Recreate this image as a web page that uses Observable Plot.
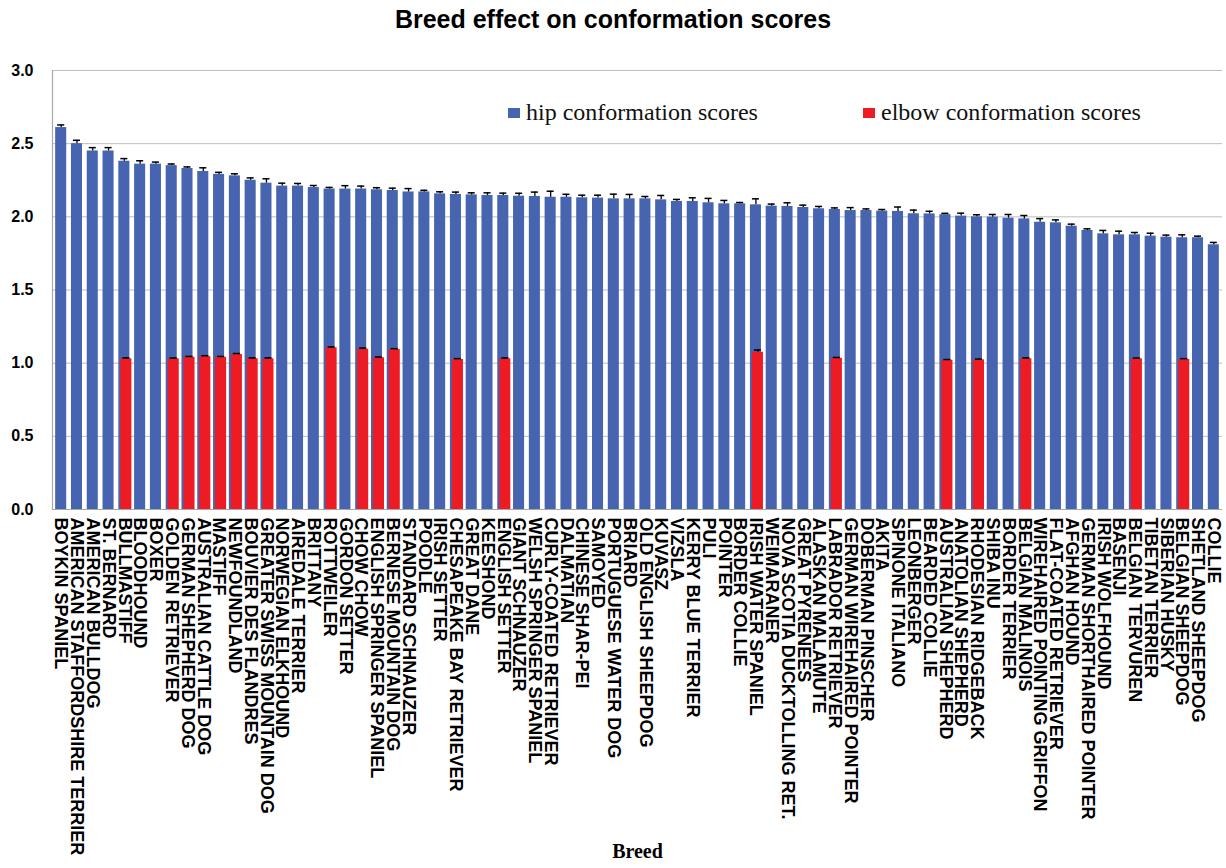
<!DOCTYPE html>
<html>
<head>
<meta charset="utf-8">
<script src="https://cdn.jsdelivr.net/npm/d3@7"></script>
<script src="https://cdn.jsdelivr.net/npm/@observablehq/plot@0.6"></script>
<style>
  html, body { margin: 0; padding: 0; background: #fff; }
  #wrap { position: relative; width: 1226px; height: 868px; }
  #title { box-sizing: border-box; height: 40px; padding-top: 5px; line-height: 35px; text-align: center; font: bold 25px "Liberation Sans", Arial, sans-serif; color: #000; }
  .leg { position: absolute; font-family: "Liberation Serif", "Times New Roman", serif; font-size: 24px; line-height: 28px; color: #111; white-space: nowrap; }
  .sw { display: inline-block; width: 12px; height: 10px; margin-right: 6px; vertical-align: 2px; }
</style>
</head>
<body>
<div id="wrap">
  <div id="title">Breed effect on conformation scores</div>
  <div id="chart"></div>
  <div class="leg" style="left:508px; top:98px;"><span class="sw" style="background:#4664AF"></span>hip conformation scores</div>
  <div class="leg" style="left:863px; top:98px;"><span class="sw" style="background:#ED1C24"></span>elbow conformation scores</div>
</div>
<script>
const breeds = [
  "BOYKIN SPANIEL", "AMERICAN STAFFORDSHIRE TERRIER", "AMERICAN BULLDOG", "ST. BERNARD",
  "BULLMASTIFF", "BLOODHOUND", "BOXER", "GOLDEN RETRIEVER", "GERMAN SHEPHERD DOG",
  "AUSTRALIAN CATTLE DOG", "MASTIFF", "NEWFOUNDLAND", "BOUVIER DES FLANDRES",
  "GREATER SWISS MOUNTAIN DOG", "NORWEGIAN ELKHOUND", "AIREDALE TERRIER", "BRITTANY",
  "ROTTWEILER", "GORDON SETTER", "CHOW CHOW", "ENGLISH SPRINGER SPANIEL",
  "BERNESE MOUNTAIN DOG", "STANDARD SCHNAUZER", "POODLE", "IRISH SETTER",
  "CHESAPEAKE BAY RETRIEVER", "GREAT DANE", "KEESHOND", "ENGLISH SETTER",
  "GIANT SCHNAUZER", "WELSH SPRINGER SPANIEL", "CURLY-COATED RETRIEVER", "DALMATIAN",
  "CHINESE SHAR-PEI", "SAMOYED", "PORTUGUESE WATER DOG", "BRIARD", "OLD ENGLISH SHEEPDOG",
  "KUVASZ", "VIZSLA", "KERRY BLUE TERRIER", "PULI", "POINTER", "BORDER COLLIE",
  "IRISH WATER SPANIEL", "WEIMARANER", "NOVA SCOTIA DUCKTOLLING RET.", "GREAT PYRENEES",
  "ALASKAN MALAMUTE", "LABRADOR RETRIEVER", "GERMAN WIREHAIRED POINTER",
  "DOBERMAN PINSCHER", "AKITA", "SPINONE ITALIANO", "LEONBERGER", "BEARDED COLLIE",
  "AUSTRALIAN SHEPHERD", "ANATOLIAN SHEPHERD", "RHODESIAN RIDGEBACK", "SHIBA INU",
  "BORDER TERRIER", "BELGIAN MALINOIS", "WIREHAIRED POINTING GRIFFON",
  "FLAT-COATED RETRIEVER", "AFGHAN HOUND", "GERMAN SHORTHAIRED POINTER",
  "IRISH WOLFHOUND", "BASENJI", "BELGIAN TERVUREN", "TIBETAN TERRIER", "SIBERIAN HUSKY",
  "BELGIAN SHEEPDOG", "SHETLAND SHEEPDOG", "COLLIE"
];

const hipScores = [
  2.61, 2.50, 2.45, 2.45, 2.38, 2.36, 2.36, 2.35, 2.33, 2.31,
  2.29, 2.28, 2.25, 2.23, 2.21, 2.21, 2.20, 2.19, 2.19, 2.19,
  2.185, 2.18, 2.17, 2.17, 2.157, 2.153, 2.15, 2.146, 2.146, 2.141,
  2.139, 2.134, 2.134, 2.13, 2.128, 2.123, 2.123, 2.123, 2.116, 2.105,
  2.105, 2.096, 2.089, 2.089, 2.082, 2.073, 2.071, 2.064, 2.055, 2.05,
  2.043, 2.043, 2.039, 2.037, 2.021, 2.02, 2.015, 2.005, 2.0, 1.998,
  1.991, 1.986, 1.963, 1.959, 1.936, 1.907, 1.884, 1.877, 1.877, 1.868,
  1.861, 1.857, 1.857, 1.809
];

const hipErrors = [
  0.018, 0.023, 0.023, 0.023, 0.018, 0.023, 0.014, 0.011, 0.011, 0.025,
  0.014, 0.014, 0.016, 0.030, 0.020, 0.018, 0.014, 0.011, 0.023, 0.020,
  0.014, 0.016, 0.023, 0.011, 0.014, 0.016, 0.014, 0.018, 0.016, 0.020,
  0.030, 0.041, 0.020, 0.018, 0.020, 0.032, 0.030, 0.016, 0.030, 0.014,
  0.025, 0.030, 0.023, 0.009, 0.041, 0.014, 0.025, 0.016, 0.016, 0.011,
  0.020, 0.011, 0.011, 0.030, 0.025, 0.018, 0.009, 0.020, 0.014, 0.018,
  0.025, 0.023, 0.025, 0.020, 0.014, 0.011, 0.023, 0.025, 0.016, 0.020,
  0.014, 0.020, 0.011, 0.016
];

// elbow scores (null where no elbow score is shown)
const elbowScores = [
  null, null, null, null, 1.03, null, null, 1.03, 1.04, 1.045,
  1.04, 1.06, 1.03, 1.03, null, null, null, 1.105, null, 1.095,
  1.037, 1.093, null, null, null, 1.025, null, null, 1.03, null,
  null, null, null, null, null, null, null, null, null, null,
  null, null, null, null, 1.075, null, null, null, null, 1.034,
  null, null, null, null, null, null, 1.02, null, 1.023, null,
  null, 1.03, null, null, null, null, null, null, 1.03, null,
  null, 1.025, null, null
];

const elbowErrors = [
  null, null, null, null, 0.006, null, null, 0.005, 0.006, 0.006,
  0.006, 0.006, 0.006, 0.006, null, null, null, 0.006, null, 0.008,
  0.005, 0.006, null, null, null, 0.006, null, null, 0.006, null,
  null, null, null, null, null, null, null, null, null, null,
  null, null, null, null, 0.015, null, null, null, null, 0.005,
  null, null, null, null, null, null, 0.005, null, 0.005, null,
  null, 0.006, null, null, null, null, null, null, 0.005, null,
  null, 0.006, null, null
];

const yTicks = [0, 0.5, 1.0, 1.5, 2.0, 2.5, 3.0];

const hip = breeds.map((b, i) => ({breed: b, v: hipScores[i], e: hipErrors[i]}));
const elbow = breeds.map((b, i) => ({breed: b, v: elbowScores[i], e: elbowErrors[i]})).filter(d => d.v != null);

const sans = "'Liberation Sans', Arial, sans-serif";

const chart = Plot.plot({
  width: 1226,
  height: 828,
  marginTop: 30,
  marginBottom: 359,
  marginLeft: 52,
  marginRight: 4,
  style: {fontFamily: sans, background: "white", color: "#000"},
  x: {domain: breeds, paddingInner: 0.3, paddingOuter: 0.2, label: null},
  y: {domain: [0, 3], label: null},
  marks: [
    Plot.gridY(yTicks, {stroke: "#bdbdbd", strokeOpacity: 1, strokeWidth: 1}),
    Plot.barY(hip, {x: "breed", y: "v", fill: "#4664AF"}),
    Plot.ruleX(hip, {x: "breed", y1: "v", y2: d => d.v + d.e, stroke: "#000", strokeWidth: 1.3}),
    Plot.tickY(hip, {x: "breed", y: d => d.v + d.e, stroke: "#000", strokeWidth: 1.5, insetLeft: 2, insetRight: 2}),
    Plot.barY(elbow, {x: "breed", y: "v", fill: "#ED1C24", dx: 2}),
    Plot.ruleX(elbow, {x: "breed", y1: "v", y2: d => d.v + d.e, stroke: "#000", strokeWidth: 1.3, dx: 2}),
    Plot.tickY(elbow, {x: "breed", y: d => d.v + d.e, stroke: "#000", strokeWidth: 1.5, insetLeft: 2, insetRight: 2, dx: 2}),
    Plot.ruleY([0], {stroke: "#a8a8a8", strokeWidth: 1.2}),
    Plot.frame({anchor: "left", stroke: "#a8a8a8", strokeWidth: 1.2}),
    Plot.axisY(yTicks, {tickSize: 0, tickPadding: 19, tickFormat: d => d.toFixed(1), fontSize: 16, fontWeight: "bold", label: null}),
    Plot.axisX({tickRotate: 90, tickSize: 0, tickPadding: 8, fontSize: 18, fontWeight: "bold", label: null}),
    Plot.text(["Breed"], {frameAnchor: "bottom", dy: 348, text: d => d, fontFamily: "'Liberation Serif', 'Times New Roman', serif", fontWeight: "bold", fontSize: 20})
  ]
});
document.getElementById("chart").appendChild(chart);
</script>
</body>
</html>
